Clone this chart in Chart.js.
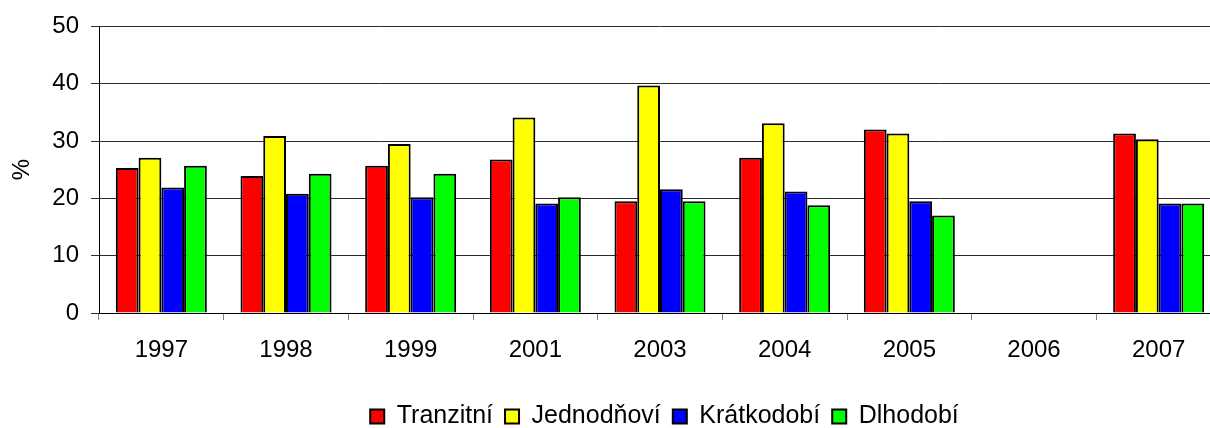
<!DOCTYPE html>
<html lang="cs">
<head>
<meta charset="utf-8">
<title>Tranzitní / Jednodňoví / Krátkodobí / Dlhodobí</title>
<script src="https://cdn.jsdelivr.net/npm/chart.js@4/dist/chart.umd.min.js"></script>
<style>
    html, body { margin: 0; padding: 0; background: #fff; overflow: hidden; }
    #wrap { width: 1221px; height: 428px; position: relative; }
</style>
</head>
<body>
<div id="wrap"><canvas id="chart"></canvas></div>
<script>
// Roky (kategorie)
const years = ['1997', '1998', '1999', '2001', '2003', '2004', '2005', '2006', '2007'];

// Hodnoty v % (2006 bez dat)
const tranzitni   = [25.3, 23.9, 25.7, 26.8, 19.5, 27.1, 32.0, null, 31.3];
const jednodnovi  = [27.1, 30.9, 29.5, 34.1, 39.7, 33.1, 31.3, null, 30.3];
const kratkodobi  = [21.9, 20.8, 20.2, 19.1, 21.6, 21.2, 19.5, null, 19.1];
const dlhodobi    = [25.7, 24.3, 24.3, 20.2, 19.5, 18.8, 17.0, null, 19.1];

const seriesNames = ['Tranzitní', 'Jednodňoví', 'Krátkodobí', 'Dlhodobí'];
const seriesColors = ['#ff0000', '#ffff00', '#0000ff', '#00ff00'];
const yTicks = [0, 10, 20, 30, 40, 50];

const FONT = 'Arial, "Liberation Sans", sans-serif';

function makeDataset(label, data, color) {
    return {
        label: label,
        data: data,
        backgroundColor: color,
        borderColor: '#000',
        borderWidth: 2,
        categoryPercentage: 0.73,
        barPercentage: 1.0
    };
}

// Legenda v originále není na středu plátna, posuneme ji doprava
const legendShift = {
    id: 'legendShift',
    afterLayout: function(chart) {
        const lg = chart.legend;
        if (!lg) return;
        const offset = 54;
        lg.left += offset;
        lg.right += offset;
    }
};

const ctx = document.getElementById('chart').getContext('2d');
const chart = new Chart(ctx, {
    type: 'bar',
    data: {
        labels: years,
        datasets: [
            makeDataset(seriesNames[0], tranzitni, seriesColors[0]),
            makeDataset(seriesNames[1], jednodnovi, seriesColors[1]),
            makeDataset(seriesNames[2], kratkodobi, seriesColors[2]),
            makeDataset(seriesNames[3], dlhodobi, seriesColors[3])
        ]
    },
    plugins: [legendShift],
    options: {
        responsive: true,
        maintainAspectRatio: false,
        animation: false,
        layout: {
            padding: { top: 24, right: 0, bottom: -11, left: 0 }
        },
        plugins: {
            tooltip: { enabled: false },
            legend: {
                position: 'bottom',
                labels: {
                    boxWidth: 14,
                    boxHeight: 14,
                    padding: 12,
                    color: '#000',
                    font: { family: FONT, size: 25 }
                }
            }
        },
        scales: {
            x: {
                afterFit: function(scale) { scale.height = 79; },
                grid: {
                    offset: true,
                    drawOnChartArea: false,
                    drawTicks: true,
                    tickLength: 7,
                    color: '#808080'
                },
                border: { display: true, color: '#000', width: 1 },
                ticks: {
                    color: '#000',
                    padding: 16,
                    maxRotation: 0,
                    font: { family: FONT, size: 24 }
                }
            },
            y: {
                min: 0,
                max: 50,
                afterFit: function(scale) { scale.width = 99; },
                afterBuildTicks: function(scale) {
                    scale.ticks = yTicks.map(v => ({ value: v }));
                },
                grid: {
                    color: '#2a2a2a',
                    lineWidth: 1,
                    tickLength: 8
                },
                border: { display: true, color: '#000', width: 1 },
                ticks: {
                    color: '#000',
                    padding: 12,
                    font: { family: FONT, size: 24 }
                },
                title: {
                    display: true,
                    text: '%',
                    color: '#000',
                    padding: { top: 8, bottom: 0 },
                    font: { family: FONT, size: 24 }
                }
            }
        }
    }
});
</script>
</body>
</html>
